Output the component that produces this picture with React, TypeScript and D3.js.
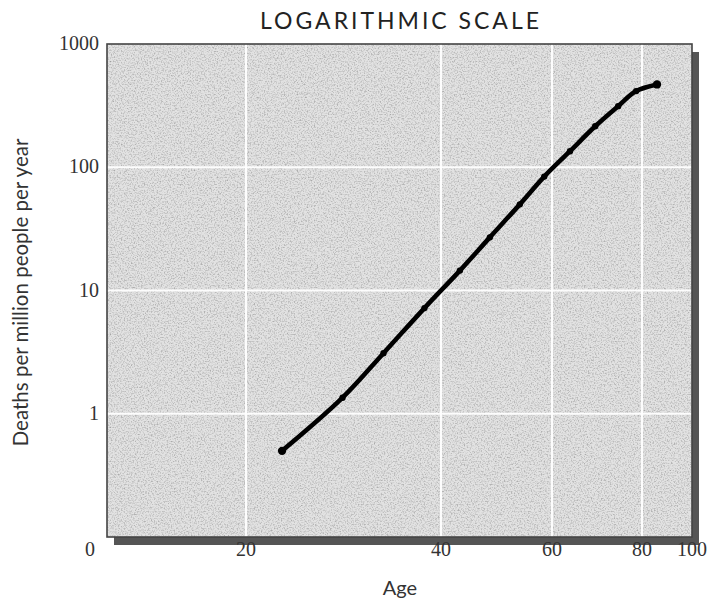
import React from "react";
import * as d3 from "d3";

const W = 714;
const H = 603;

const ages = [23.7, 29.9, 34.1, 38.3, 43.4, 48.8, 54.2, 58.6, 64, 69.6, 74.7, 78.7, 86];
const deaths = [0.5, 1.35, 3.1, 7.2, 14.5, 27, 50, 84, 135, 215, 313, 415, 470];

const xTicks = [0, 20, 40, 60, 80, 100];
const xGrid = [20, 40, 60, 80];
const yTicks = [1, 10, 100, 1000];
const yGrid = [1, 10, 100];

const title = "LOGARITHMIC SCALE";
const xLabel = "Age";
const yLabel = "Deaths per million people per year";

export default function App() {
  const left = 107, right = 692, top = 44, bottom = 537;
  const x = d3.scaleLinear().domain(xTicks).range([90, 246, 441, 552, 642, 692]);
  const y = d3.scaleLog().domain([0.1, 1000]).range([bottom, top]);

  const pts = ages.map((a, i) => [x(a), y(deaths[i])] as [number, number]);
  const line = d3.line().curve(d3.curveCatmullRom.alpha(0.5))(pts) || "";

  const serif = "'Liberation Serif', 'DejaVu Serif', serif";
  const sans = "Lato, 'Open Sans', sans-serif";

  return (
    <svg width={W} height={H} style={{ position: "absolute", left: 0, top: 0, background: "#fff" }}>
      <defs>
        <filter id="noise" x="0" y="0" width="100%" height="100%">
          <feTurbulence type="fractalNoise" baseFrequency="0.7" numOctaves="2" seed="7" result="t" />
          <feColorMatrix in="t" type="matrix"
            values="0 0 0 0 0  0 0 0 0 0  0 0 0 0 0  2.0 0 0 0 -0.9" />
        </filter>
      </defs>
      {/* shadow */}
      <rect x={left + 7} y={top + 8} width={right - left} height={bottom - top} fill="#555" />
      {/* plot background */}
      <rect x={left} y={top} width={right - left} height={bottom - top} fill="#e2e2e2" />
      <rect x={left} y={top} width={right - left} height={bottom - top} fill="#000" filter="url(#noise)" opacity={0.3} />
      {/* grid */}
      {xGrid.map((v) => (
        <line key={"gx" + v} x1={x(v)} x2={x(v)} y1={top} y2={bottom} stroke="#fff" strokeWidth={2} opacity={0.95} />
      ))}
      {yGrid.map((v) => (
        <line key={"gy" + v} x1={left} x2={right} y1={y(v)} y2={y(v)} stroke="#fff" strokeWidth={2} opacity={0.95} />
      ))}
      {/* frame */}
      <rect x={left} y={top} width={right - left} height={bottom - top} fill="none" stroke="#444" strokeWidth={1.6} />
      {/* data line */}
      <path d={line} fill="none" stroke="#000" strokeWidth={4.6} strokeLinecap="round" strokeLinejoin="round" />
      {pts.map((p, i) => (
        <circle key={"p" + i} cx={p[0]} cy={p[1]} r={i === 0 || i === pts.length - 1 ? 4.2 : 3.2} fill="#000" />
      ))}
      {/* title */}
      <text x={(left + right) / 2} y={29} textAnchor="middle" fontFamily={sans} fontSize={23}
        textLength={279} lengthAdjust="spacing" fill="#222">{title}</text>
      {/* y ticks */}
      {yTicks.map((v) => (
        <text key={"yt" + v} x={99} y={y(v) + 6} textAnchor="end" fontFamily={serif} fontSize={20} fill="#333">{v}</text>
      ))}
      {/* x ticks */}
      {xTicks.map((v) => (
        <text key={"xt" + v} x={x(v)} y={556} textAnchor="middle" fontFamily={serif} fontSize={20} fill="#333">{v}</text>
      ))}
      {/* axis labels */}
      <text x={400} y={595} textAnchor="middle" fontFamily={sans} fontSize={20} fill="#333">{xLabel}</text>
      <text transform={`translate(28,${(top + bottom) / 2 + 2}) rotate(-90)`} textAnchor="middle"
        fontFamily={sans} fontSize={20.5} fill="#333">{yLabel}</text>
    </svg>
  );
}
